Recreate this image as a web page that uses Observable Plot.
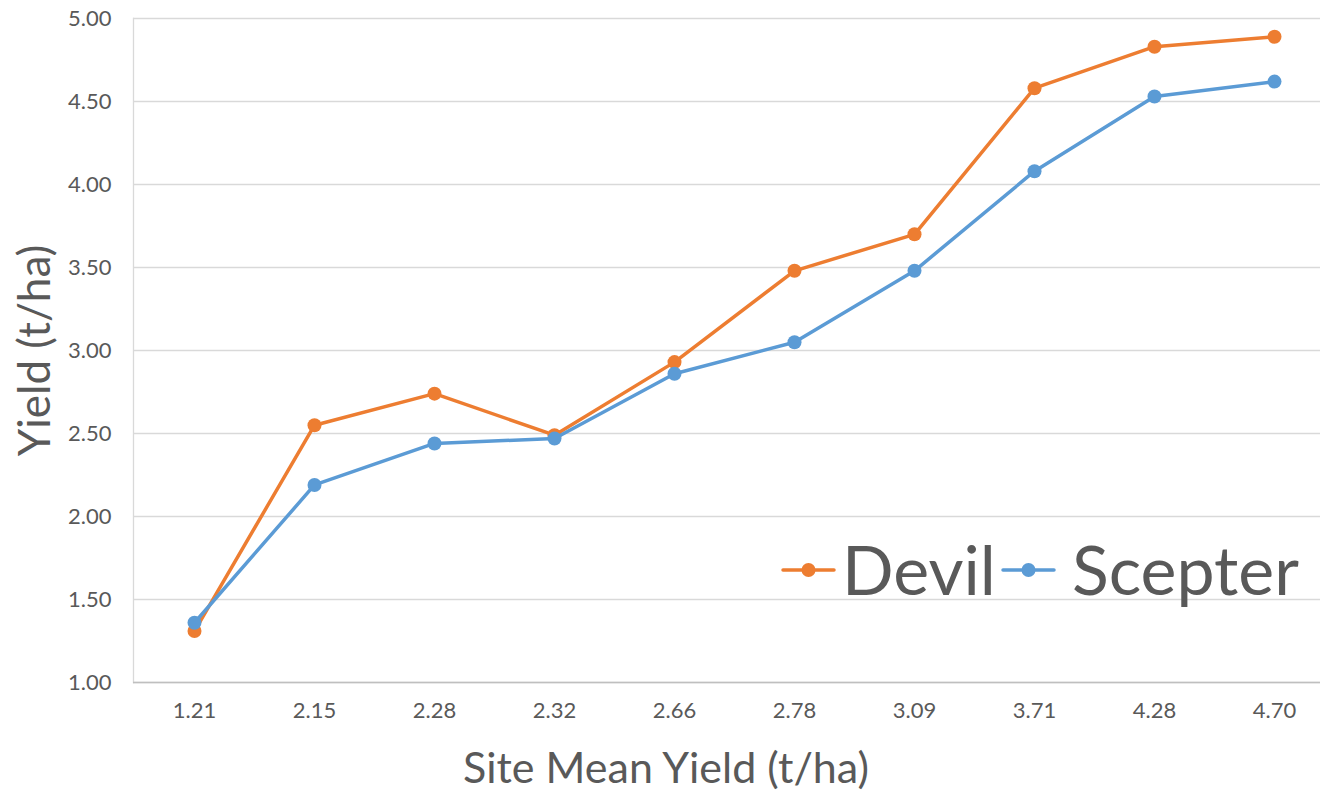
<!DOCTYPE html>
<html>
<head>
<meta charset="utf-8">
<script src="https://cdn.jsdelivr.net/npm/d3@7"></script>
<script src="https://cdn.jsdelivr.net/npm/@observablehq/plot@0.6"></script>
<style>
  html, body { margin: 0; padding: 0; background: #fff; overflow: hidden; }
  #wrap { position: relative; width: 1320px; height: 793px; }
  .legtext { position: absolute; font-family: Lato, "Open Sans", sans-serif; color: #595959; font-size: 68px; line-height: 1; white-space: nowrap; }
  .legsw { position: absolute; }
</style>
</head>
<body>
<div id="wrap"></div>
<script>
const sites = ["1.21", "2.15", "2.28", "2.32", "2.66", "2.78", "3.09", "3.71", "4.28", "4.70"];
const devil = [1.31, 2.55, 2.74, 2.49, 2.93, 3.48, 3.70, 4.58, 4.83, 4.89];
const scepter = [1.36, 2.19, 2.44, 2.47, 2.86, 3.05, 3.48, 4.08, 4.53, 4.62];
const yTicks = [1.0, 1.5, 2.0, 2.5, 3.0, 3.5, 4.0, 4.5, 5.0];
const seriesNames = ["Devil", "Scepter"];
const seriesColors = ["#ED7D31", "#5B9BD5"];

const devilData = sites.map((s, i) => ({site: s, value: devil[i]}));
const scepterData = sites.map((s, i) => ({site: s, value: scepter[i]}));

const font = "Lato, 'Open Sans', sans-serif";
const gray = "#595959";

const chart = Plot.plot({
  width: 1320,
  height: 793,
  marginLeft: 133,
  marginRight: 0,
  marginTop: 18,
  marginBottom: 111,
  style: {fontFamily: font, color: gray, background: "#fff", overflow: "hidden"},
  x: {type: "point", domain: sites, range: [193, 1274], padding: 0},
  y: {domain: [1, 5]},
  marks: [
    Plot.gridY(yTicks, {stroke: "#D9D9D9", strokeOpacity: 1, strokeWidth: 1.3}),
    Plot.frame({anchor: "left", stroke: "#D9D9D9", strokeWidth: 1.3}),
    Plot.ruleY([1], {stroke: "#BFBFBF", strokeWidth: 1.3}),
    Plot.axisY(yTicks, {tickSize: 0, tickPadding: 22, tickFormat: d3.format(".2f"), fontSize: 22, fill: gray, label: null}),
    Plot.axisX(sites, {tickSize: 0, tickPadding: 20, fontSize: 22, fill: gray, label: null}),
    Plot.text(["Yield (t/ha)"], {frameAnchor: "left", textAnchor: "middle", lineAnchor: "middle", rotate: -90, dx: -98, fontSize: 44, fill: gray, text: d => d}),
    Plot.text(["Site Mean Yield (t/ha)"], {frameAnchor: "bottom", lineAnchor: "middle", dy: 87, dx: -61, fontSize: 43, fill: gray, text: d => d}),
    Plot.line(devilData, {x: "site", y: "value", stroke: seriesColors[0], strokeWidth: 3.5}),
    Plot.dot(devilData, {x: "site", y: "value", fill: seriesColors[0], r: 7}),
    Plot.line(scepterData, {x: "site", y: "value", stroke: seriesColors[1], strokeWidth: 3.5}),
    Plot.dot(scepterData, {x: "site", y: "value", fill: seriesColors[1], r: 7})
  ]
});

const wrap = document.getElementById("wrap");
wrap.appendChild(chart);

// Legend inside the plot area
const swatchLeft = [783, 1003];
const textLeft = [842, 1072];
seriesNames.forEach((name, i) => {
  const c = seriesColors[i];
  const sw = document.createElement("div");
  sw.className = "legsw";
  sw.style.left = (swatchLeft[i] - 2) + "px";
  sw.style.top = "560px";
  sw.innerHTML = `<svg width="56" height="20"><line x1="2" x2="53" y1="10" y2="10" stroke="${c}" stroke-width="3.5" stroke-linecap="round"/><circle cx="27.5" cy="10" r="7" fill="${c}"/></svg>`;
  wrap.appendChild(sw);
  const t = document.createElement("div");
  t.className = "legtext";
  t.style.left = textLeft[i] + "px";
  t.style.top = "535px";
  t.textContent = name;
  wrap.appendChild(t);
});
</script>
</body>
</html>
